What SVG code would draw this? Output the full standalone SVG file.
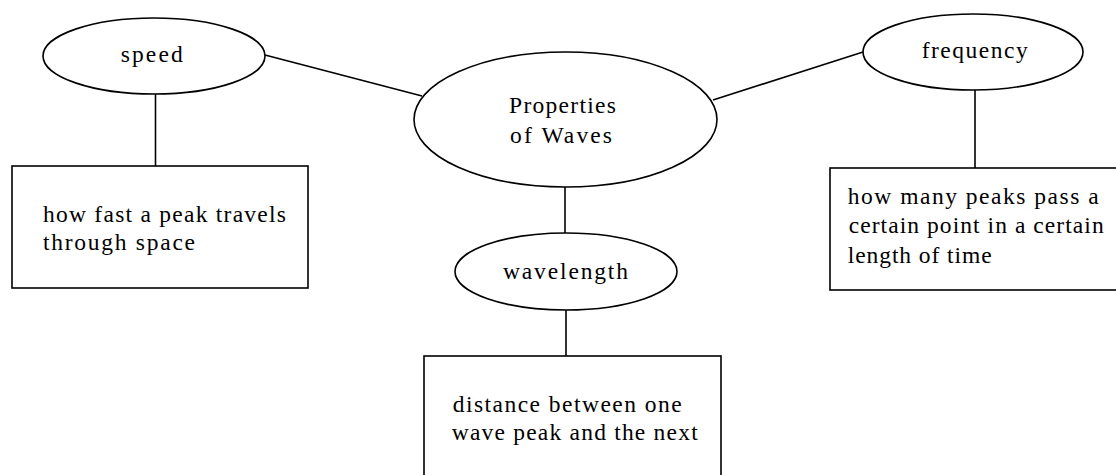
<svg xmlns="http://www.w3.org/2000/svg" width="1116" height="475" viewBox="0 0 1116 475">
<style>
.s{fill:#fff;stroke:#000;stroke-width:1.6}
.c line{stroke:#000;stroke-width:1.6}
text{font-family:"Liberation Serif","Times New Roman",serif;font-size:23.5px;fill:#000}
</style>
<rect width="1116" height="475" fill="#fff"/>
<g class="c" id="connectors">
<line x1="265" y1="55" x2="422" y2="96"/>
<line x1="713" y1="100" x2="863" y2="52"/>
<line x1="155.5" y1="94" x2="155.5" y2="166"/>
<line x1="565" y1="187" x2="565" y2="233"/>
<line x1="566" y1="310" x2="566" y2="356"/>
<line x1="975" y1="90" x2="975" y2="168"/>
</g>
<g id="center">
<ellipse class="s" cx="565.5" cy="119.5" rx="151.5" ry="67.5"/>
<text x="509" y="113" textLength="107" lengthAdjust="spacing">Properties</text>
<text x="510" y="143" textLength="102" lengthAdjust="spacing">of Waves</text>
</g>
<g id="speed">
<ellipse class="s" cx="154" cy="56" rx="111" ry="38"/>
<text x="120.7" y="62" textLength="62" lengthAdjust="spacing">speed</text>
</g>
<g id="frequency">
<ellipse class="s" cx="973" cy="52" rx="110" ry="38"/>
<text x="921.7" y="58" textLength="106" lengthAdjust="spacing">frequency</text>
</g>
<g id="wavelength">
<ellipse class="s" cx="566" cy="271.5" rx="111" ry="38.5"/>
<text x="503" y="279" textLength="125" lengthAdjust="spacing">wavelength</text>
</g>
<g id="speed-def">
<rect class="s" x="12" y="166" width="296" height="122"/>
<text x="43" y="222" textLength="243" lengthAdjust="spacing">how fast a peak travels</text>
<text x="43" y="250" textLength="152" lengthAdjust="spacing">through space</text>
</g>
<g id="frequency-def">
<rect class="s" x="830" y="168" width="300" height="122"/>
<text x="847.7" y="204" textLength="251" lengthAdjust="spacing">how many peaks pass a</text>
<text x="848.7" y="233" textLength="255" lengthAdjust="spacing">certain point in a certain</text>
<text x="847.7" y="263" textLength="144" lengthAdjust="spacing">length of time</text>
</g>
<g id="wavelength-def">
<rect class="s" x="424" y="356" width="297" height="130"/>
<text x="452.7" y="412" textLength="229" lengthAdjust="spacing">distance between one</text>
<text x="451.7" y="440" textLength="246" lengthAdjust="spacing">wave peak and the next</text>
</g>
</svg>
